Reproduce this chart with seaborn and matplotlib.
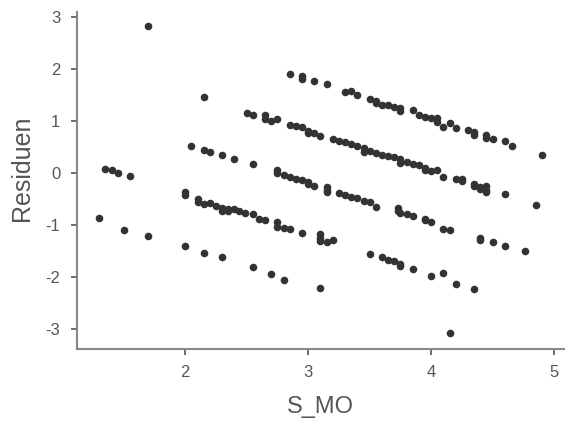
import seaborn as sns
import matplotlib.pyplot as plt
import pandas as pd

# values
s_mo = [
    1.70, 2.15, 2.50, 2.55, 2.05, 2.15, 2.20, 2.30, 2.40, 2.55,
    1.35, 1.40, 1.45, 1.55,
    2.85, 2.95, 2.95, 3.05, 3.15, 3.30, 3.35, 3.40,
    3.50, 3.55, 3.55, 3.60, 3.65, 3.70, 3.75, 3.75,
    3.85,
    3.90, 3.95, 4.00, 4.05, 4.05, 4.10, 4.15, 4.20, 4.30, 4.35, 4.35, 4.45, 4.45, 4.50, 4.60, 4.66, 4.90,
    2.65, 2.65, 2.70, 2.75,
    2.85, 2.90, 2.95, 3.00, 3.00, 3.05, 3.10,
    3.20, 3.25, 3.30, 3.35, 3.40, 3.45, 3.45, 3.50, 3.55, 3.60, 3.65, 3.70, 3.75, 3.75, 3.80, 3.85,
    3.90, 3.95, 3.95, 4.00, 4.05, 4.10, 4.20, 4.25, 4.25, 4.35, 4.35, 4.40, 4.40, 4.45, 4.45, 4.45, 4.60, 4.85,
    3.95, 3.95, 4.00, 4.10, 4.15, 4.40, 4.40, 4.50, 4.60, 4.76,
    4.00, 4.10, 4.20, 4.35,
    4.15,
    2.75, 2.75, 2.80, 2.85, 2.90, 2.95, 3.00, 3.00, 3.05, 3.15, 3.15, 3.15,
    3.25, 3.30, 3.35, 3.40, 3.45, 3.50, 3.55,
    3.73, 3.73, 3.75, 3.80, 3.85,
    2.44, 2.49, 2.55, 2.60, 2.65, 2.75, 2.75, 2.80, 2.85, 2.95, 3.10, 3.10, 3.10, 3.15, 3.20,
    3.50, 3.60, 3.65, 3.70, 3.75, 3.75, 3.85,
    2.55, 2.70, 2.80, 3.10,
    1.30, 1.50, 1.70, 2.00, 2.00,
    2.10, 2.10, 2.15, 2.20, 2.25, 2.30, 2.30, 2.35, 2.35, 2.40,
    2.00, 2.15, 2.30,
]
residuen = [
    2.84, 1.46, 1.16, 1.12, 0.52, 0.45, 0.41, 0.34, 0.27, 0.17,
    0.08, 0.06, 0.01, -0.05,
    1.91, 1.87, 1.82, 1.77, 1.71, 1.56, 1.58, 1.51,
    1.43, 1.39, 1.35, 1.31, 1.31, 1.27, 1.25, 1.19,
    1.21,
    1.12, 1.08, 1.06, 1.06, 0.98, 0.89, 0.96, 0.87, 0.83, 0.79, 0.73, 0.73, 0.68, 0.65, 0.61, 0.53, 0.35,
    1.11, 1.04, 1.00, 1.04,
    0.92, 0.91, 0.89, 0.81, 0.77, 0.77, 0.71,
    0.66, 0.62, 0.60, 0.56, 0.52, 0.48, 0.40, 0.42, 0.39, 0.35, 0.33, 0.31, 0.27, 0.19, 0.21, 0.17,
    0.16, 0.10, 0.05, 0.03, 0.05, -0.07, -0.11, -0.11, -0.16, -0.21, -0.25, -0.27, -0.31, -0.25, -0.32, -0.36, -0.41, -0.62,
    -0.89, -0.91, -0.95, -1.07, -1.09, -1.26, -1.29, -1.33, -1.41, -1.50,
    -1.98, -1.93, -2.13, -2.24,
    -3.08,
    0.05, 0.00, -0.03, -0.07, -0.12, -0.14, -0.18, -0.22, -0.24, -0.26, -0.32, -0.37,
    -0.39, -0.43, -0.47, -0.49, -0.53, -0.55, -0.66,
    -0.67, -0.74, -0.77, -0.79, -0.83,
    -0.74, -0.76, -0.78, -0.89, -0.91, -0.95, -1.03, -1.05, -1.07, -1.16, -1.18, -1.26, -1.30, -1.32, -1.28,
    -1.55, -1.61, -1.67, -1.69, -1.75, -1.79, -1.85,
    -1.81, -1.95, -2.06, -2.22,
    -0.87, -1.09, -1.21, -0.37, -0.42,
    -0.50, -0.55, -0.59, -0.57, -0.63, -0.67, -0.73, -0.69, -0.74, -0.69,
    -1.41, -1.54, -1.61,
]
x_ticks = [2, 3, 4, 5]
y_ticks = [-3, -2, -1, 0, 1, 2, 3]

df = pd.DataFrame({'S_MO': s_mo, 'Residuen': residuen})

sns.set_style('ticks')
plt.rcParams['font.family'] = ['Liberation Sans', 'DejaVu Sans']
plt.rcParams['axes.unicode_minus'] = False

fig = plt.figure(figsize=(5.65, 4.28), dpi=100)
ax = fig.add_axes([0.136, 0.185, 0.862, 0.788])
sns.scatterplot(data=df, x='S_MO', y='Residuen', color='#333333', s=30,
                linewidth=0, ax=ax)

ax.set_xlim(1.118, 5.08)
ax.set_ylim(-3.385, 3.11)
ax.set_xticks(x_ticks)
ax.set_yticks(y_ticks)
ax.set_xlabel('S_MO', fontsize=17, color='#555555', labelpad=11)
ax.set_ylabel('Residuen', fontsize=18, color='#555555')
ax.yaxis.set_label_coords(-0.088, 0.535)
ax.tick_params(colors='#555555', labelsize=12, length=4, width=1.2, pad=8)
sns.despine(ax=ax)
for side in ['left', 'bottom']:
    ax.spines[side].set_color('#888888')
    ax.spines[side].set_linewidth(1.5)

fig.savefig('out.png', dpi=100)
